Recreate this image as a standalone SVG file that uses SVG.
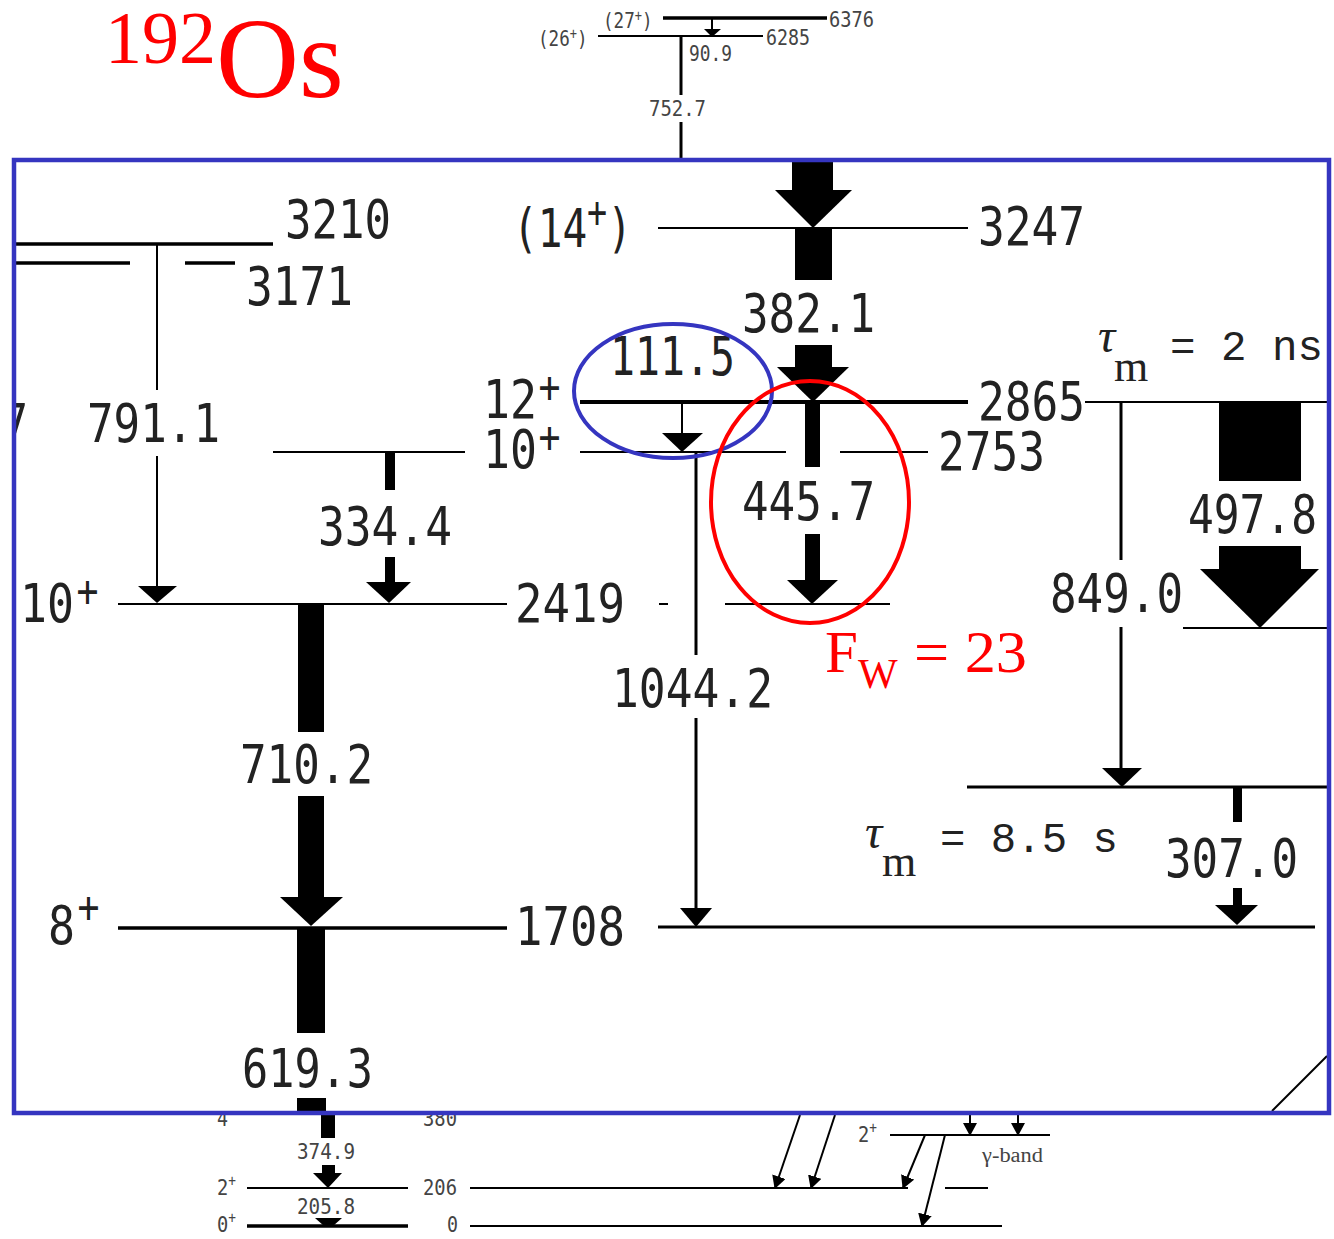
<svg xmlns="http://www.w3.org/2000/svg" width="1334" height="1239" viewBox="0 0 1334 1239">
<defs>
<style>
.lv{stroke:#000;stroke-width:2;fill:none}
.lt{stroke:#000;stroke-width:3.5;fill:none}
.tr{stroke:#000;fill:none}
.n{font-family:"DejaVu Sans Mono",monospace;font-size:54px;fill:#222}
.p{font-size:44px}
.s{font-family:"DejaVu Sans Mono",monospace;font-size:22px;fill:#444}
.sp{font-size:15px}
.red{font-family:"Liberation Serif",serif;fill:#ff0000}
.tau{font-family:"Liberation Serif",serif;font-size:48px;fill:#222;font-style:italic}
.sub{font-size:44px;font-style:normal}
.eq{font-family:"Liberation Mono",monospace;font-size:43px;fill:#222}
</style>
<marker id="ah" markerUnits="userSpaceOnUse" markerWidth="14" markerHeight="14" refX="12" refY="7" orient="auto">
<path d="M0,0 L13,7 L0,14 z" fill="#000"/>
</marker>
<clipPath id="inbox"><rect x="16" y="162" width="1311" height="949"/></clipPath>
<clipPath id="below"><rect x="0" y="1115" width="1334" height="124"/></clipPath>
</defs>
<rect width="1334" height="1239" fill="#fff"/>

<g id="title">
<text class="red" x="105" y="63" font-size="74">192<tspan font-size="115" dy="34">Os</tspan></text>
</g>

<g id="lvl6376">
<line class="lt" x1="663" y1="18" x2="827" y2="18"/>
<text class="s" transform="translate(603,28) scale(0.8,1)">(27<tspan class="sp" dy="-7">+</tspan><tspan dy="7">)</tspan></text>
<text class="s" x="829" y="27" textLength="45" lengthAdjust="spacingAndGlyphs">6376</text>
</g>
<g id="lvl6285">
<line class="lv" x1="598" y1="36" x2="763" y2="36"/>
<text class="s" transform="translate(538,46) scale(0.8,1)">(26<tspan class="sp" dy="-7">+</tspan><tspan dy="7">)</tspan></text>
<text class="s" x="766" y="45" textLength="44" lengthAdjust="spacingAndGlyphs">6285</text>
</g>
<g id="lvl3247">
<line class="lv" x1="658" y1="228" x2="968" y2="228"/>
<text class="n" transform="translate(513,247) scale(0.76,1)">(14<tspan class="p" dy="-20">+</tspan><tspan dy="20">)</tspan></text>
<text class="n" x="978" y="245" textLength="107" lengthAdjust="spacingAndGlyphs">3247</text>
</g>
<g id="lvl3210">
<line class="lt" x1="16" y1="244" x2="273" y2="244"/>
<text class="n" x="285" y="238" textLength="106" lengthAdjust="spacingAndGlyphs">3210</text>
</g>
<g id="lvl3171">
<line class="lt" x1="16" y1="263" x2="130" y2="263"/>
<line class="lt" x1="185" y1="263" x2="235" y2="263"/>
<text class="n" x="246" y="305" textLength="107" lengthAdjust="spacingAndGlyphs">3171</text>
</g>
<g id="lvl2865">
<line class="tr" stroke-width="4" x1="580" y1="402" x2="968" y2="402"/>
<line class="lv" x1="1085" y1="402" x2="1327" y2="402"/>
<text class="n" transform="translate(483,418) scale(0.83,1)">12<tspan class="p" dy="-16" dx="2">+</tspan></text>
<text class="n" x="978" y="420" textLength="107" lengthAdjust="spacingAndGlyphs">2865</text>
</g>
<g id="lvl2753">
<line class="lv" x1="273" y1="452" x2="465" y2="452"/>
<line class="lv" x1="580" y1="452" x2="786" y2="452"/>
<line class="lv" x1="840" y1="452" x2="928" y2="452"/>
<text class="n" transform="translate(483,468) scale(0.83,1)">10<tspan class="p" dy="-16" dx="2">+</tspan></text>
<text class="n" x="938" y="470" textLength="107" lengthAdjust="spacingAndGlyphs">2753</text>
</g>
<g id="lvl2419">
<line class="lv" x1="118" y1="604" x2="507" y2="604"/>
<line class="lv" x1="659" y1="604" x2="668" y2="604"/>
<line class="lv" x1="725" y1="604" x2="890" y2="604"/>
<text class="n" transform="translate(20,622) scale(0.83,1)">10<tspan class="p" dy="-16" dx="3">+</tspan></text>
<text class="n" x="515" y="622" textLength="110" lengthAdjust="spacingAndGlyphs">2419</text>
</g>
<g id="lvlR628">
<line class="lv" x1="1183" y1="628" x2="1327" y2="628"/>
</g>
<g id="lvlR787">
<line class="tr" stroke-width="3" x1="967" y1="787" x2="1327" y2="787"/>
</g>
<g id="lvl1708">
<line class="lt" x1="118" y1="928" x2="507" y2="928"/>
<line class="tr" stroke-width="3" x1="658" y1="927" x2="1315" y2="927"/>
<text class="n" transform="translate(48,944) scale(0.83,1)">8<tspan class="p" dy="-22" dx="3">+</tspan></text>
<text class="n" x="515" y="945" textLength="110" lengthAdjust="spacingAndGlyphs">1708</text>
</g>
<g id="lvl380" clip-path="url(#below)">
<line class="lv" x1="247" y1="1114" x2="408" y2="1114"/>
<line class="lv" x1="470" y1="1114" x2="830" y2="1114"/>
<text class="s" x="217" y="1126" textLength="11" lengthAdjust="spacingAndGlyphs">4</text>
<text class="s" x="423" y="1126" textLength="34" lengthAdjust="spacingAndGlyphs">380</text>
</g>
<g id="lvl206">
<line class="lv" x1="247" y1="1188" x2="408" y2="1188"/>
<line class="lv" x1="470" y1="1188" x2="908" y2="1188"/>
<line class="lv" x1="945" y1="1188" x2="988" y2="1188"/>
<text class="s" transform="translate(217,1195) scale(0.85,1)">2<tspan class="sp" dy="-9">+</tspan></text>
<text class="s" x="423" y="1195" textLength="34" lengthAdjust="spacingAndGlyphs">206</text>
</g>
<g id="lvl0">
<line class="lt" x1="247" y1="1226" x2="408" y2="1226"/>
<line class="lv" x1="470" y1="1226" x2="1002" y2="1226"/>
<text class="s" transform="translate(217,1232) scale(0.85,1)">0<tspan class="sp" dy="-9">+</tspan></text>
<text class="s" x="447" y="1232" textLength="11" lengthAdjust="spacingAndGlyphs">0</text>
</g>
<g id="lvlgamma">
<line class="lv" x1="890" y1="1135" x2="1050" y2="1135"/>
<text class="s" transform="translate(858,1142) scale(0.85,1)">2<tspan class="sp" dy="-9">+</tspan></text>
<text x="982" y="1162" font-family="Liberation Serif, serif" font-size="20" fill="#444" textLength="61" lengthAdjust="spacingAndGlyphs">γ-band</text>
</g>

<g id="connectors">
<line class="tr" stroke-width="3" x1="681" y1="36" x2="681" y2="95"/>
<line class="tr" stroke-width="3" x1="681" y1="122" x2="681" y2="158"/>
<text class="s" x="649" y="116" textLength="57" lengthAdjust="spacingAndGlyphs">752.7</text>
<line class="tr" stroke-width="2" x1="712" y1="18" x2="712" y2="30"/>
<polygon points="704,29 721,29 712,37"/>
<text class="s" x="689" y="61" textLength="43" lengthAdjust="spacingAndGlyphs">90.9</text>
<rect x="792" y="160" width="41" height="31"/>
<polygon points="775,190 852,190 813,228"/>
<rect x="795" y="228" width="37" height="52"/>
<rect x="795" y="345" width="37" height="23"/>
<polygon points="777,367 849,367 813,402"/>
<text class="n" x="742" y="332" textLength="133" lengthAdjust="spacingAndGlyphs">382.1</text>
<rect x="805" y="402" width="15" height="65"/>
<rect x="805" y="534" width="15" height="47"/>
<polygon points="787,580 838,580 812,604"/>
<text class="n" x="742" y="520" textLength="133" lengthAdjust="spacingAndGlyphs">445.7</text>
<line class="tr" stroke-width="2" x1="682" y1="402" x2="682" y2="434"/>
<polygon points="662,433 703,433 682,452"/>
<text class="n" x="610" y="375" textLength="125" lengthAdjust="spacingAndGlyphs">111.5</text>
<line class="tr" stroke-width="3" x1="696" y1="452" x2="696" y2="655"/>
<line class="tr" stroke-width="3" x1="696" y1="718" x2="696" y2="910"/>
<polygon points="680,908 712,908 696,927"/>
<text class="n" x="612" y="707" textLength="161" lengthAdjust="spacingAndGlyphs">1044.2</text>
<line class="tr" stroke-width="2" x1="157" y1="244" x2="157" y2="390"/>
<line class="tr" stroke-width="2" x1="157" y1="456" x2="157" y2="588"/>
<polygon points="138,586 177,586 157,603"/>
<text class="n" x="87" y="442" textLength="133" lengthAdjust="spacingAndGlyphs">791.1</text>
<text class="n" x="2" y="442" textLength="26" lengthAdjust="spacingAndGlyphs" clip-path="url(#inbox)">7</text>
<rect x="385" y="452" width="10" height="38"/>
<rect x="385" y="557" width="10" height="26"/>
<polygon points="366,582 411,582 389,603"/>
<text class="n" x="318" y="545" textLength="134" lengthAdjust="spacingAndGlyphs">334.4</text>
<rect x="298" y="604" width="26" height="128"/>
<rect x="298" y="796" width="26" height="102"/>
<polygon points="280,897 343,897 311,926"/>
<text class="n" x="240" y="783" textLength="133" lengthAdjust="spacingAndGlyphs">710.2</text>
<rect x="297" y="928" width="28" height="105"/>
<rect x="297" y="1098" width="29" height="13"/>
<text class="n" x="242" y="1087" textLength="131" lengthAdjust="spacingAndGlyphs">619.3</text>
<rect x="321" y="1113" width="14" height="25"/>
<rect x="322" y="1165" width="13" height="9"/>
<polygon points="313,1173 342,1173 328,1188"/>
<text class="s" x="297" y="1159" textLength="58" lengthAdjust="spacingAndGlyphs">374.9</text>
<polygon points="315,1218 342,1218 333,1226 324,1226"/>
<text class="s" x="297" y="1214" textLength="58" lengthAdjust="spacingAndGlyphs">205.8</text>
<line class="tr" stroke-width="3" x1="1121" y1="402" x2="1121" y2="560"/>
<line class="tr" stroke-width="3" x1="1121" y1="627" x2="1121" y2="770"/>
<polygon points="1102,768 1142,768 1122,787"/>
<text class="n" x="1050" y="612" textLength="133" lengthAdjust="spacingAndGlyphs">849.0</text>
<rect x="1219" y="402" width="82" height="79"/>
<rect x="1219" y="546" width="82" height="24"/>
<polygon points="1200,569 1319,569 1260,628"/>
<text class="n" x="1188" y="533" textLength="129" lengthAdjust="spacingAndGlyphs">497.8</text>
<rect x="1233" y="787" width="9" height="35"/>
<rect x="1233" y="888" width="9" height="18"/>
<polygon points="1215,905 1258,905 1237,925"/>
<text class="n" x="1165" y="877" textLength="133" lengthAdjust="spacingAndGlyphs">307.0</text>
<line class="tr" stroke-width="2" x1="800" y1="1115" x2="775" y2="1188" marker-end="url(#ah)"/>
<line class="tr" stroke-width="2" x1="835" y1="1115" x2="811" y2="1188" marker-end="url(#ah)"/>
<line class="tr" stroke-width="2" x1="925" y1="1135" x2="903" y2="1188" marker-end="url(#ah)"/>
<line class="tr" stroke-width="2" x1="945" y1="1135" x2="922" y2="1226" marker-end="url(#ah)"/>
<line class="tr" stroke-width="2" x1="970" y1="1114" x2="970" y2="1135" marker-end="url(#ah)"/>
<line class="tr" stroke-width="2" x1="1018" y1="1114" x2="1018" y2="1135" marker-end="url(#ah)"/>
<line class="tr" stroke-width="2" x1="1272" y1="1111" x2="1327" y2="1056"/>
</g>

<g id="lifetimes">
<text class="tau" x="1098" y="352">τ<tspan class="sub" x="1114" y="381">m</tspan></text>
<text class="eq" x="1170" y="360" textLength="153" lengthAdjust="spacingAndGlyphs">= 2 ns</text>
<text class="tau" x="865" y="848">τ<tspan class="sub" x="882" y="876">m</tspan></text>
<text class="eq" x="940" y="852" textLength="178" lengthAdjust="spacingAndGlyphs">= 8.5 s</text>
</g>

<g id="frame">
<rect x="14" y="160" width="1315" height="953" fill="none" stroke="#3535c0" stroke-width="4.5"/>
</g>
<g id="highlights">
<ellipse cx="673" cy="391" rx="99" ry="67" fill="none" stroke="#3535c0" stroke-width="4"/>
<ellipse cx="810" cy="502" rx="99" ry="121" fill="none" stroke="#ff0000" stroke-width="4"/>
<text class="red" x="825" y="672" font-size="59">F<tspan font-size="42" x="858" dy="16">W</tspan></text>
<text class="red" x="914" y="672" font-size="59" textLength="113" lengthAdjust="spacingAndGlyphs">= 23</text>
</g>
</svg>
